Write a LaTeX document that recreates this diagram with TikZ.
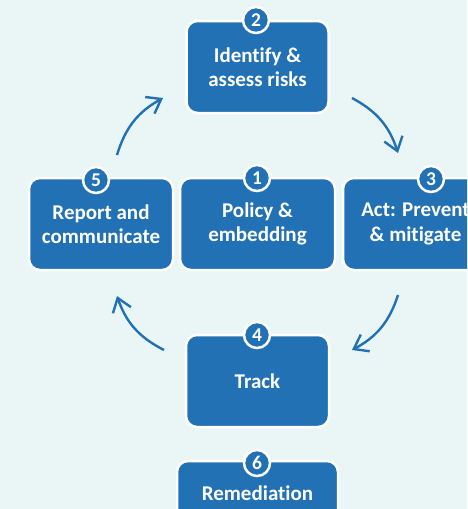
\documentclass[tikz,border=0pt]{standalone}
\usepackage{fontspec}
\setmainfont[Ligatures=NoCommon]{Carlito}
\usetikzlibrary{arrows.meta}
\definecolor{bgc}{RGB}{234,245,246}
\definecolor{boxblue}{RGB}{34,113,181}
\tikzset{
  stagebox/.style={rectangle, rounded corners=11pt, fill=boxblue, draw=white, line width=2.5pt,
    text=white, align=center, inner sep=0pt, font=\bfseries\fontsize{21}{24.5}\selectfont},
  numdot/.style={circle, fill=boxblue, draw=white, line width=2.5pt, minimum size=26pt, inner sep=0pt,
    text=white, font=\bfseries\fontsize{19.5}{19.5}\selectfont},
  cyclearrow/.style={draw=boxblue, line width=2.4pt, -{Straight Barb[length=13pt,width=19pt,line width=2.4pt]}, bend left=22}
}
\begin{document}
\begin{tikzpicture}[x=1pt,y=-1pt]
\useasboundingbox (0,0) rectangle (467,509);
\clip (0,0) rectangle (467,509);
\fill[bgc] (0,0) rectangle (467,509);
% boxes
\node[stagebox, minimum width=142pt, minimum height=92pt] (b2) at (257.5,67) {Identify \&\\assess risks};
\node[stagebox, minimum width=144pt, minimum height=92pt] (b5) at (101,224) {Report and\\communicate};
\node[stagebox, minimum width=155pt, minimum height=92pt] (b1) at (257.5,224) {Policy \&\\embedding};
\node[stagebox, minimum width=145pt, minimum height=92pt] (b3) at (415.5,224) {Act: Prevent\\\& mitigate};
\node[stagebox, minimum width=143pt, minimum height=92pt] (b4) at (257.5,381) {Track};
\node[stagebox, minimum width=161pt, minimum height=64pt] (b6) at (257.5,493) {Remediation};
% number dots
\node[numdot] (n2) at (256,20) {2};
\node[numdot] (n5) at (96,180) {5};
\node[numdot] (n1) at (257,178) {1};
\node[numdot] (n3) at (431,179) {3};
\node[numdot] (n4) at (257,335) {4};
\node[numdot] (n6) at (257,463) {6};
% arrows
\coordinate (a52s) at (117,155);
\coordinate (a52e) at (163,98);
\coordinate (a23s) at (352,98);
\coordinate (a23e) at (398,153);
\coordinate (a34s) at (398,295);
\coordinate (a34e) at (352,350);
\coordinate (a45s) at (164,350);
\coordinate (a45e) at (117,296);
\draw[cyclearrow] (a52s) to (a52e);
\draw[cyclearrow] (a23s) to (a23e);
\draw[cyclearrow] (a34s) to (a34e);
\draw[cyclearrow] (a45s) to (a45e);
\end{tikzpicture}
\end{document}
